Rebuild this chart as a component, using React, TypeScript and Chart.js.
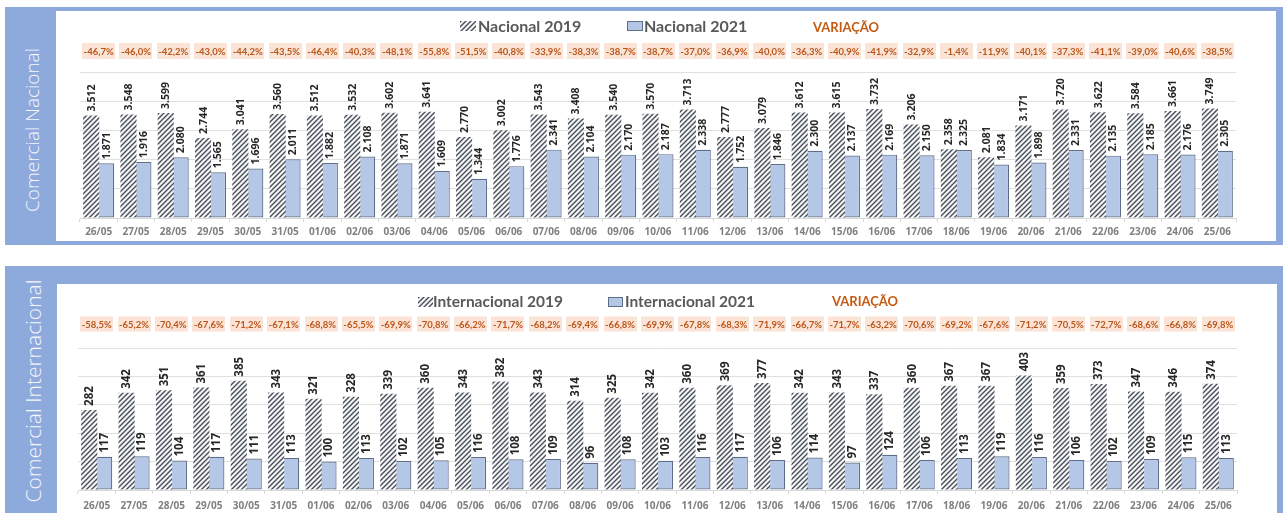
import React, { useEffect, useRef } from 'react';
import { Chart, registerables } from 'chart.js';

Chart.register(...registerables);

// ---------- DATA ----------
const dates = [
  '26/05', '27/05', '28/05', '29/05', '30/05', '31/05', '01/06', '02/06', '03/06', '04/06', '05/06',
  '06/06', '07/06', '08/06', '09/06', '10/06', '11/06', '12/06', '13/06', '14/06', '15/06', '16/06',
  '17/06', '18/06', '19/06', '20/06', '21/06', '22/06', '23/06', '24/06', '25/06',
];

const nacional2019 = [
  3512, 3548, 3599, 2744, 3041, 3560, 3512, 3532, 3602, 3641, 2770, 3002, 3543, 3408, 3540, 3570,
  3713, 2777, 3079, 3612, 3615, 3732, 3206, 2358, 2081, 3171, 3720, 3622, 3584, 3661, 3749,
];
const nacional2021 = [
  1871, 1916, 2080, 1565, 1696, 2011, 1882, 2108, 1871, 1609, 1344, 1776, 2341, 2104, 2170, 2187,
  2338, 1752, 1846, 2300, 2137, 2169, 2150, 2325, 1834, 1898, 2331, 2135, 2185, 2176, 2305,
];
const variacaoNacional = [
  -46.7, -46.0, -42.2, -43.0, -44.2, -43.5, -46.4, -40.3, -48.1, -55.8, -51.5, -40.8, -33.9, -38.3,
  -38.7, -38.7, -37.0, -36.9, -40.0, -36.3, -40.9, -41.9, -32.9, -1.4, -11.9, -40.1, -37.3, -41.1,
  -39.0, -40.6, -38.5,
];

const internacional2019 = [
  282, 342, 351, 361, 385, 343, 321, 328, 339, 360, 343, 382, 343, 314, 325, 342, 360, 369, 377,
  342, 343, 337, 360, 367, 367, 403, 359, 373, 347, 346, 374,
];
const internacional2021 = [
  117, 119, 104, 117, 111, 113, 100, 113, 102, 105, 116, 108, 109, 96, 108, 103, 116, 117, 106,
  114, 97, 124, 106, 113, 119, 116, 106, 102, 109, 115, 113,
];
const variacaoInternacional = [
  -58.5, -65.2, -70.4, -67.6, -71.2, -67.1, -68.8, -65.5, -69.9, -70.8, -66.2, -71.7, -68.2, -69.4,
  -66.8, -69.9, -67.8, -68.3, -71.9, -66.7, -71.7, -63.2, -70.6, -69.2, -67.6, -71.2, -70.5, -72.7,
  -68.6, -66.8, -69.8,
];

const nacionalAxis = { max: 5000, step: 1000 };
const internacionalAxis = { max: 500, step: 100 };

// ---------- STYLE ----------
const FONT = 'Lato, "Open Sans", "DejaVu Sans", sans-serif';
const LABEL_FONT = '"Open Sans", Lato, "DejaVu Sans", sans-serif';
const BLUE = '#8EA9DB';

const fmtThousands = (v: number) => String(v).replace(/\B(?=(\d{3})+(?!\d))/g, '.');
const fmtPct = (v: number) => v.toFixed(1).replace('.', ',') + '%';

function makeHatch(): CanvasPattern | string {
  const n = 5;
  const c = document.createElement('canvas');
  c.width = n;
  c.height = n;
  const g = c.getContext('2d');
  if (!g) return '#555';
  g.fillStyle = '#F4F4F4';
  g.fillRect(0, 0, n, n);
  g.strokeStyle = '#454C5A';
  g.lineWidth = 1.35;
  g.beginPath();
  g.moveTo(-1, 1);
  g.lineTo(1, -1);
  g.moveTo(0, n);
  g.lineTo(n, 0);
  g.moveTo(n - 1, n + 1);
  g.lineTo(n + 1, n - 1);
  g.stroke();
  return g.createPattern(c, 'repeat') || '#555';
}

interface PanelProps {
  labels: string[];
  s2019: number[];
  s2021: number[];
  varia: number[];
  name2019: string;
  name2021: string;
  yMax: number;
  yStep: number;
  width: number;
  height: number;
  padding: { left: number; right: number; top: number; bottom: number };
  tickPadding: number;
  legend: { box1X: number; text1X: number; box2X: number; text2X: number; variaX: number; boxY: number; boxW: number; baseline: number; variaBaseline: number; font: number };
  varY: number;
  varH: number;
  labelFont: number;
}

function ChartPanel(p: PanelProps) {
  const ref = useRef<HTMLCanvasElement>(null);

  useEffect(() => {
    if (!ref.current) return;
    const hatch = makeHatch();

    const deco = {
      id: 'deco',
      afterDatasetsDraw(chart: any) {
        const ctx = chart.ctx as CanvasRenderingContext2D;
        ctx.save();
        ctx.font = `bold ${p.labelFont}px ${LABEL_FONT}`;
        ctx.fillStyle = '#262626';
        ctx.textAlign = 'left';
        ctx.textBaseline = 'middle';
        chart.data.datasets.forEach((ds: any, di: number) => {
          const meta = chart.getDatasetMeta(di);
          meta.data.forEach((el: any, i: number) => {
            const v = ds.data[i] as number;
            ctx.save();
            ctx.translate(el.x + 0.5, el.y - 4);
            ctx.rotate(-Math.PI / 2);
            ctx.fillText(fmtThousands(v), 0, 0);
            ctx.restore();
          });
        });
        ctx.restore();
      },
      afterDraw(chart: any) {
        const ctx = chart.ctx as CanvasRenderingContext2D;
        const xs = chart.scales.x;
        ctx.save();
        // variation labels
        ctx.font = `bold 9.5px ${FONT}`;
        ctx.textAlign = 'center';
        ctx.textBaseline = 'middle';
        p.varia.forEach((v, i) => {
          const x = xs.getPixelForValue(i);
          ctx.fillStyle = '#FBE4D5';
          ctx.fillRect(Math.round(x - 16.5), p.varY - p.varH / 2, 33, p.varH);
          ctx.fillStyle = '#B9561C';
          ctx.fillText(fmtPct(v), x, p.varY + 0.5);
        });
        // legend
        const L = p.legend;
        ctx.fillStyle = hatch as any;
        ctx.fillRect(L.box1X, L.boxY, L.boxW, 10);
        ctx.fillStyle = '#B4C7E7';
        ctx.fillRect(L.box2X, L.boxY, L.boxW, 10);
        ctx.strokeStyle = '#5E6E88';
        ctx.lineWidth = 1;
        ctx.strokeRect(L.box2X + 0.5, L.boxY + 0.5, L.boxW - 1, 9);
        ctx.textAlign = 'left';
        ctx.textBaseline = 'alphabetic';
        ctx.font = `bold ${L.font}px ${FONT}`;
        ctx.fillStyle = '#595959';
        ctx.fillText(p.name2019, L.text1X, L.baseline);
        ctx.fillText(p.name2021, L.text2X, L.baseline);
        ctx.font = `bold 13px ${FONT}`;
        ctx.fillStyle = '#C55A11';
        ctx.fillText('VARIAÇÃO', L.variaX, L.variaBaseline);
        ctx.restore();
      },
    };

    const chart = new Chart(ref.current, {
      type: 'bar',
      data: {
        labels: p.labels,
        datasets: [
          {
            label: p.name2019,
            data: p.s2019,
            backgroundColor: hatch as any,
            borderWidth: 0,
            categoryPercentage: 0.8,
            barPercentage: 1.08,
          },
          {
            label: p.name2021,
            data: p.s2021,
            backgroundColor: '#B4C7E7',
            borderColor: '#5E6E88',
            borderWidth: 1.2,
            borderSkipped: false,
            categoryPercentage: 0.8,
            barPercentage: 1.08,
          },
        ],
      },
      options: {
        responsive: false,
        animation: false,
        layout: { padding: p.padding },
        plugins: {
          legend: { display: false },
          tooltip: { enabled: false },
        },
        scales: {
          x: {
            grid: { display: true, drawOnChartArea: false, drawTicks: true, tickLength: 4, color: '#D9D9D9', offset: true },
            border: { display: true, color: '#D9D9D9' },
            ticks: {
              color: '#7F7F7F',
              font: { family: LABEL_FONT, size: 10, weight: 'bold' },
              padding: p.tickPadding,
              maxRotation: 0,
              autoSkip: false,
            },
            afterFit: (s: any) => {
              s.height = 23;
            },
          },
          y: {
            min: 0,
            max: p.yMax,
            ticks: { display: false, stepSize: p.yStep },
            grid: { color: '#E0E0E0', drawTicks: false },
            border: { display: false },
            afterFit: (s: any) => {
              s.width = 0;
            },
          },
        },
      },
      plugins: [deco as any],
    });
    return () => chart.destroy();
  }, []);

  return <canvas ref={ref} width={p.width} height={p.height} style={{ display: 'block' }} />;
}

function SideText({ text, x, y, size }: { text: string; x: number; y: number; size: number }) {
  return (
    <div style={{ position: 'absolute', left: x, top: y, width: 0, height: 0 }}>
      <span
        style={{
          position: 'absolute',
          left: 0,
          top: 0,
          whiteSpace: 'nowrap',
          transform: 'translate(-50%, -50%) rotate(-90deg)',
          color: '#F4F7FC',
          fontFamily: '"Open Sans", sans-serif',
          fontWeight: 300,
          fontSize: size,
          lineHeight: 1,
        }}
      >
        {text}
      </span>
    </div>
  );
}

export default function App() {
  useEffect(() => {
    document.body.style.margin = '0';
  }, []);

  return (
    <div style={{ position: 'fixed', left: 0, top: 0, width: 1284, height: 513, overflow: 'hidden', background: '#FFFFFF' }}>
      {/* top panel */}
      <div style={{ position: 'absolute', left: 5, top: 7, width: 1278, height: 238, background: BLUE }} />
      <div style={{ position: 'absolute', left: 56, top: 11, width: 1220, height: 230, background: '#FFFFFF' }}>
        <ChartPanel
          labels={dates}
          s2019={nacional2019}
          s2021={nacional2021}
          varia={variacaoNacional}
          name2019="Nacional 2019"
          name2021="Nacional 2021"
          yMax={nacionalAxis.max}
          yStep={nacionalAxis.step}
          width={1220}
          height={230}
          padding={{ left: 24, right: 40, top: 61, bottom: 0 }}
          tickPadding={4}
          legend={{ box1X: 404, text1X: 422, box2X: 571, text2X: 588, variaX: 757, boxY: 10, boxW: 16, baseline: 21, variaBaseline: 21, font: 16 }}
          varY={40}
          varH={16}
          labelFont={10.5}
        />
      </div>
      <SideText text="Comercial Nacional" x={32} y={130} size={19} />

      {/* bottom panel */}
      <div style={{ position: 'absolute', left: 5, top: 266, width: 1278, height: 260, background: BLUE }} />
      <div style={{ position: 'absolute', left: 57, top: 284, width: 1220, height: 240, background: '#FFFFFF' }}>
        <ChartPanel
          labels={dates}
          s2019={internacional2019}
          s2021={internacional2021}
          varia={variacaoInternacional}
          name2019="Internacional 2019"
          name2021="Internacional 2021"
          yMax={internacionalAxis.max}
          yStep={internacionalAxis.step}
          width={1220}
          height={229}
          padding={{ left: 21, right: 40, top: 64, bottom: 0 }}
          tickPadding={6}
          legend={{ box1X: 361, text1X: 376, box2X: 551, text2X: 568, variaX: 775, boxY: 13, boxW: 15, baseline: 23, variaBaseline: 22, font: 15.5 }}
          varY={40}
          varH={15}
          labelFont={11.5}
        />
      </div>
      <SideText text="Comercial Internacional" x={33} y={391} size={21} />
    </div>
  );
}
